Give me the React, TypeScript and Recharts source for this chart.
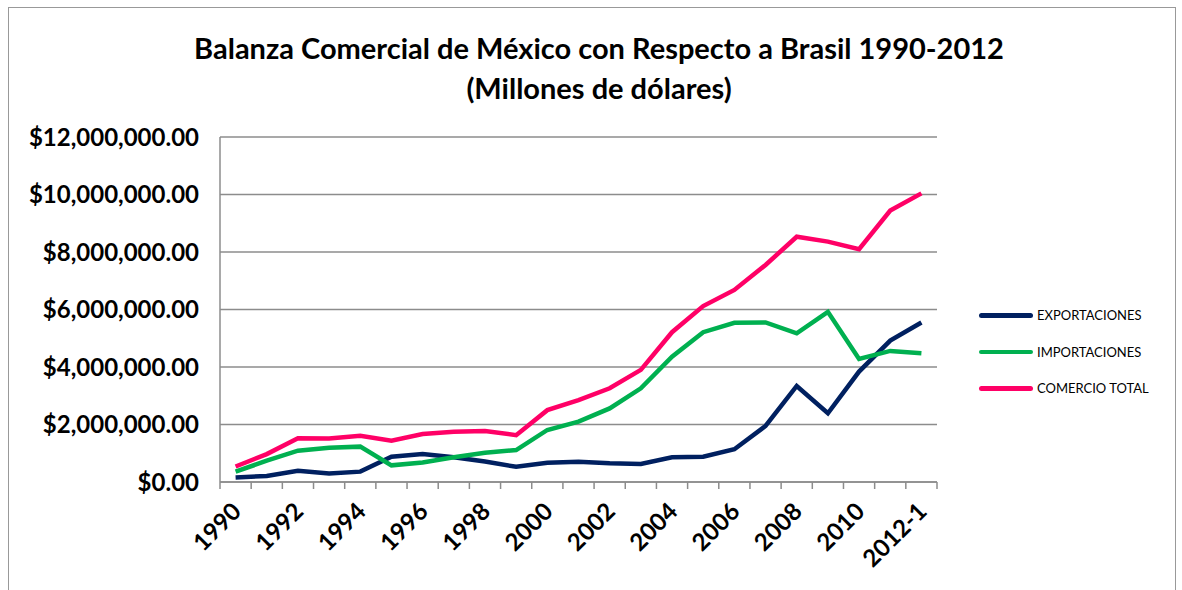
import React from 'react';
import { LineChart, Line, XAxis, YAxis, CartesianGrid } from 'recharts';

const years = [
  '1990', '1991', '1992', '1993', '1994', '1995', '1996', '1997', '1998', '1999', '2000',
  '2001', '2002', '2003', '2004', '2005', '2006', '2007', '2008', '2009', '2010', '2011', '2012-1',
];

const exportaciones = [
  160000, 210000, 390000, 300000, 360000, 880000, 970000, 860000, 710000, 530000, 670000,
  700000, 650000, 630000, 860000, 880000, 1140000, 1950000, 3340000, 2390000, 3840000, 4920000, 5550000,
];

const importaciones = [
  360000, 740000, 1090000, 1190000, 1230000, 580000, 680000, 860000, 1020000, 1110000, 1810000,
  2100000, 2560000, 3260000, 4360000, 5210000, 5540000, 5550000, 5170000, 5920000, 4280000, 4560000, 4480000,
];

const comercioTotal = [
  540000, 970000, 1520000, 1510000, 1610000, 1440000, 1670000, 1750000, 1770000, 1630000, 2500000,
  2850000, 3260000, 3900000, 5210000, 6120000, 6680000, 7550000, 8530000, 8360000, 8100000, 9440000, 10040000,
];

const yTicks = [0, 2000000, 4000000, 6000000, 8000000, 10000000, 12000000];

const series = [
  { key: 'exportaciones', name: 'EXPORTACIONES', color: '#002060' },
  { key: 'importaciones', name: 'IMPORTACIONES', color: '#00B050' },
  { key: 'comercioTotal', name: 'COMERCIO TOTAL', color: '#FF0066' },
];

const data = years.map((year, i) => ({
  year,
  exportaciones: exportaciones[i],
  importaciones: importaciones[i],
  comercioTotal: comercioTotal[i],
}));

const FONT = 'Lato, "Open Sans", sans-serif';
const GRID = '#8c8c8c';
const STEP = 717 / years.length;

const formatMoney = (v: number) =>
  '$' + v.toLocaleString('en-US', { minimumFractionDigits: 2, maximumFractionDigits: 2 });

const XTick = (props: any) => {
  const { x, y, payload, index } = props;
  const last = index === years.length - 1;
  return (
    <g>
      <line x1={x - STEP / 2} x2={x - STEP / 2} y1={y - 8} y2={y - 1} stroke={GRID} strokeWidth={1.5} />
      {last && <line x1={x + STEP / 2} x2={x + STEP / 2} y1={y - 8} y2={y - 1} stroke={GRID} strokeWidth={1.5} />}
      {index % 2 === 0 && (
        <text
          x={x + 7}
          y={y + 23}
          transform={`rotate(-45 ${x + 7} ${y + 23})`}
          textAnchor="end"
          fontFamily={FONT}
          fontWeight="bold"
          fontSize={24}
          fill="#000"
        >
          {payload.value}
        </text>
      )}
    </g>
  );
};

export default function App() {
  return (
    <div style={{ position: 'absolute', left: 0, top: 0, width: 1182, height: 590, overflow: 'hidden', background: '#fff' }}>
      <div style={{ position: 'absolute', left: 8, top: 7, width: 1166, height: 600, border: '1px solid #999' }} />
      <div
        style={{
          position: 'absolute', left: 0, top: 28, width: 1198, textAlign: 'center',
          fontFamily: FONT, fontWeight: 'bold', fontSize: 29, lineHeight: '40px', color: '#000',
        }}
      >
        Balanza Comercial de México con Respecto a Brasil 1990-2012
        <br />
        (Millones de dólares)
      </div>
      <LineChart
        width={1182}
        height={590}
        data={data}
        margin={{ top: 137, right: 245, left: 10, bottom: 8 }}
        style={{ position: 'absolute', left: 0, top: 0 }}
      >
        <CartesianGrid vertical={false} stroke={GRID} strokeWidth={1.5} />
        <XAxis
          dataKey="year"
          interval={0}
          height={100}
          padding={{ left: STEP / 2, right: STEP / 2 }}
          axisLine={{ stroke: GRID, strokeWidth: 1.5 }}
          tickLine={false}
          tick={<XTick />}
        />
        <YAxis
          width={210}
          domain={[0, 12000000]}
          ticks={yTicks}
          tickFormatter={formatMoney}
          axisLine={{ stroke: GRID, strokeWidth: 1.5 }}
          tickLine={false}
          tickMargin={15}
          tick={{ fontFamily: FONT, fontWeight: 'bold', fontSize: 24, fill: '#000' }}
        />
        {series.map((s) => (
          <Line
            key={s.key}
            type="linear"
            dataKey={s.key}
            name={s.name}
            stroke={s.color}
            strokeWidth={4.5}
            dot={false}
            isAnimationActive={false}
          />
        ))}
      </LineChart>
      <div style={{ position: 'absolute', left: 979, top: 297 }}>
        {series.map((s) => (
          <div key={s.key} style={{ display: 'flex', alignItems: 'center', height: 36.5 }}>
            <div style={{ width: 54, height: 4.5, borderRadius: 2.5, background: s.color, marginRight: 4 }} />
            <span style={{ fontFamily: FONT, fontSize: 13, color: '#000' }}>{s.name}</span>
          </div>
        ))}
      </div>
    </div>
  );
}
